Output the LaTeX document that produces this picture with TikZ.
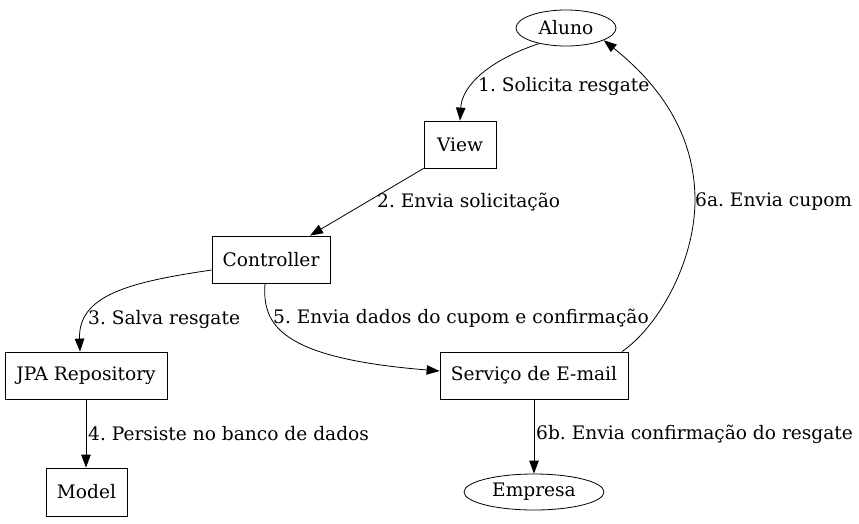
\documentclass[tikz,border=0pt]{standalone}
\usepackage{fontspec}
\setmainfont{DejaVu Serif}
\usetikzlibrary{arrows.meta,shapes.geometric}
\begin{document}
\frenchspacing
\begin{tikzpicture}[x=1pt,y=-1pt,
  every node/.style={font=\fontsize{18.6}{22}\selectfont},
  box/.style={draw,thick,rectangle,inner sep=0pt},
  oval/.style={draw,thick,ellipse,inner sep=0pt},
  lbl/.style={anchor=west,inner sep=0pt},
  edge/.style={draw,thick,-{Triangle[length=13pt,width=9.5pt]}}]
\useasboundingbox (0,0) rectangle (859,523);
\node[oval,minimum width=100pt,minimum height=36pt] (aluno) at (566,28) {Aluno};
\node[box,minimum width=72pt,minimum height=47pt] (view) at (460,144.5) {View};
\node[box,minimum width=118pt,minimum height=47pt] (ctrl) at (271,259.5) {Controller};
\node[box,minimum width=162pt,minimum height=47pt] (jpa) at (86,375.5) {JPA Repository};
\node[box,minimum width=188pt,minimum height=47pt] (mail) at (534,375.5) {Serviço de E-mail};
\node[box,minimum width=81pt,minimum height=48pt] (model) at (86.5,492) {Model};
\node[oval,minimum width=140pt,minimum height=36pt] (emp) at (534,492) {Empresa};
\coordinate (mid6a) at (695,200);

\draw[edge] (aluno.210) .. controls (490,60) and (462,85) .. (view.north);
\draw[edge] (view.south west) -- (ctrl.north east -| 310,0) ;
\draw[edge] (ctrl.west |- 0,270) .. controls (130,282) and (78,295) .. (jpa.north -| 80,0);
\draw[edge] (ctrl.south -| 265,0) .. controls (262,325) and (280,358) .. (mail.west |- 0,371);
\draw[edge] (jpa.south) -- (model.north -| jpa.south);
\draw[edge] (mail.south) -- (emp.north);
\draw[edge] (mail.north east -| 622,0) .. controls (660,325) and (695,260) .. (mid6a) .. controls (695,135) and (660,85) .. (aluno.-18);

\node[lbl] (l1) at (478,86) {1. Solicita resgate};
\node[lbl] (l2) at (377,202) {2. Envia solicitação};
\node[lbl] (l3) at (88,319) {3. Salva resgate};
\node[lbl] (l5) at (273,318) {5. Envia dados do cupom e confirmação};
\node[lbl] (l4) at (88,434) {4. Persiste no banco de dados};
\node[lbl] (l6b) at (536,434) {6b. Envia confirmação do resgate};
\node[lbl] (l6a) at (695,202) {6a. Envia cupom};
\end{tikzpicture}
\end{document}
